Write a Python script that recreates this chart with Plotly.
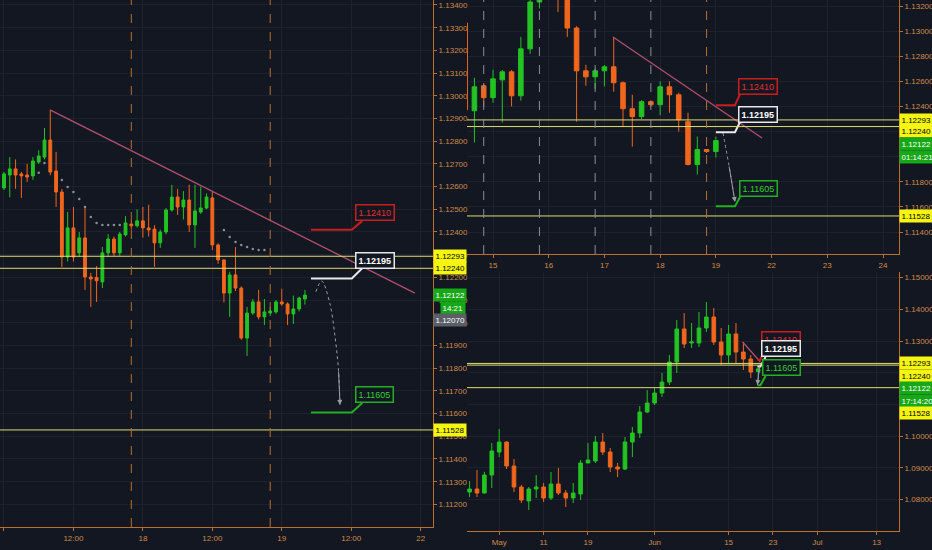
import plotly.graph_objects as go

# ---------------- DATA ----------------
# Left panel: 1h candles, index 0 = 17 Jun 00:00
L_open = [1.12594,1.12651,1.12678,1.12656,1.12651,1.12647,1.12708,1.12730,1.12805,1.12669,
          1.12576,1.12290,1.12418,1.12308,1.12374,1.12202,1.12200,1.12180,1.12308,1.12369,
          1.12308,1.12387,1.12435,1.12427,1.12449,1.12418,1.12413,1.12352,1.12400,1.12497,
          1.12554,1.12510,1.12541,1.12431,1.12488,1.12506,1.12550,1.12343,1.12277,1.12131,
          1.12211,1.12153,1.11933,1.12043,1.12092,1.12026,1.12043,1.12048,1.12092,1.12083,
          1.12039,1.12061,1.12105]
L_high = [1.12665,1.12730,1.12720,1.12665,1.12700,1.12730,1.12760,1.12858,1.12938,1.12753,
          1.12590,1.12488,1.12510,1.12400,1.12510,1.12220,1.12250,1.12334,1.12390,1.12380,
          1.12400,1.12470,1.12450,1.12500,1.12510,1.12520,1.12430,1.12410,1.12505,1.12608,
          1.12590,1.12580,1.12608,1.12608,1.12600,1.12570,1.12580,1.12350,1.12280,1.12225,
          1.12334,1.12160,1.12070,1.12105,1.12145,1.12105,1.12070,1.12100,1.12150,1.12090,
          1.12120,1.12115,1.12145]
L_low = [1.12585,1.12553,1.12590,1.12550,1.12620,1.12630,1.12700,1.12720,1.12650,1.12510,
         1.12246,1.12270,1.12270,1.12290,1.12145,1.12070,1.12092,1.12153,1.12290,1.12295,
         1.12295,1.12380,1.12410,1.12420,1.12375,1.12380,1.12246,1.12330,1.12390,1.12490,
         1.12475,1.12455,1.12400,1.12330,1.12480,1.12500,1.12320,1.12260,1.12090,1.12026,
         1.12140,1.11925,1.11854,1.12035,1.12015,1.11990,1.12030,1.12040,1.12075,1.11990,
         1.11995,1.12050,1.12080]
L_close = [1.12656,1.12678,1.12651,1.12647,1.12642,1.12713,1.12735,1.12805,1.12664,1.12576,
           1.12290,1.12418,1.12290,1.12374,1.12202,1.12193,1.12185,1.12308,1.12369,1.12308,
           1.12391,1.12440,1.12427,1.12449,1.12418,1.12409,1.12352,1.12400,1.12497,1.12554,
           1.12510,1.12541,1.12431,1.12493,1.12506,1.12554,1.12343,1.12277,1.12131,1.12211,
           1.12153,1.11933,1.12043,1.12092,1.12026,1.12048,1.12052,1.12092,1.12083,1.12039,
           1.12061,1.12109,1.12122]
L_x = list(range(len(L_open)))
L_xtick_vals = [0, 12, 24, 36, 48, 60, 72]
L_xtick_text = ["17", "12:00", "18", "12:00", "19", "12:00", "22"]
L_ytick_vals = [1.111,1.112,1.113,1.114,1.115,1.116,1.117,1.118,1.119,1.120,1.121,1.122,
                1.123,1.124,1.125,1.126,1.127,1.128,1.129,1.130,1.131,1.132,1.133,1.134]
L_session = [22, 46]
L_sar_x = [6, 7, 10, 11, 12, 13, 14, 15, 16, 17, 18, 19, 20, 38, 39, 40, 41, 42, 43, 44, 45]
L_sar_y = [1.12661,1.12704,1.12629,1.12598,1.12576,1.12545,1.12510,1.12466,1.12440,1.12431,
           1.12431,1.12431,1.12431,1.12409,1.12378,1.12356,1.12343,1.12334,1.12325,1.12321,1.12321]
L_trend_x = [7.95, 71.0]
L_trend_y = [1.12938, 1.12131]
L_path_x = [53.9, 54.9, 56.3, 57.2, 57.8, 58.06]
L_path_y = [1.12137, 1.12184, 1.12086, 1.11939, 1.11792, 1.11638]

# Top-right panel: 4h candles, index 0 = 15 Jun 00:00
T_x = list(range(-3, 25))
T_open = [1.13065,1.12366,1.12565,1.12470,1.12612,1.12676,1.12485,1.12859,1.13232,1.13400,
          1.13450,1.13380,1.13025,1.12684,1.12636,1.12684,1.12716,1.12589,1.12382,1.12319,
          1.12438,1.12414,1.12557,1.12493,1.12279,1.11938,1.12057,1.12041]
T_high = [1.13080,1.12628,1.12580,1.12692,1.12690,1.12690,1.12954,1.13300,1.13450,1.13520,
          1.13500,1.13420,1.13040,1.12732,1.12700,1.12730,1.12954,1.12600,1.12493,1.12450,
          1.12450,1.12600,1.12600,1.12510,1.12350,1.12160,1.12060,1.12160]
T_low = [1.12374,1.12113,1.12400,1.12430,1.12271,1.12400,1.12446,1.12820,1.13180,1.13350,
         1.13152,1.12954,1.12279,1.12565,1.12540,1.12560,1.12517,1.12239,1.12080,1.12300,
         1.12400,1.12330,1.12350,1.12200,1.11930,1.11858,1.12030,1.11993]
T_close = [1.12374,1.12557,1.12470,1.12620,1.12676,1.12485,1.12859,1.13232,1.13400,1.13450,
           1.13380,1.13025,1.12684,1.12636,1.12684,1.12716,1.12589,1.12382,1.12319,1.12438,
           1.12414,1.12557,1.12493,1.12295,1.11938,1.12057,1.12041,1.12128]
T_xtick_vals = [0, 6, 12, 18, 24, 30, 36, 42]
T_xtick_text = ["15", "16", "17", "18", "19", "22", "23", "24"]
T_ytick_vals = [1.114, 1.116, 1.118, 1.120, 1.122, 1.124, 1.126, 1.128, 1.130, 1.132]
T_session_gray = [-1, 5, 11, 17]
T_session_orange = [23]
T_trend_x = [12.92, 28.97]
T_trend_y = [1.12953, 1.12149]
T_path_x = [24.77, 25.4, 26.06]
T_path_y = [1.12189, 1.11934, 1.11639]

# Bottom-right panel: daily candles, index 0 = 27 Apr
B_x = list(range(40))
B_open = [1.08236,1.08331,1.08204,1.08772,1.09498,1.09813,1.09056,1.08394,1.07952,1.08331,
          1.08394,1.08047,1.08488,1.08204,1.08047,1.08173,1.09151,1.09214,1.09813,1.09498,
          1.09025,1.08962,1.09813,1.10097,1.10760,1.11044,1.11359,1.11706,1.12337,1.13379,
          1.12937,1.12937,1.13410,1.13757,1.12968,1.12558,1.13221,1.12653,1.12432,1.12041]
B_high = [1.08583,1.08930,1.08875,1.09782,1.10224,1.09830,1.09277,1.08457,1.08394,1.08772,
          1.08520,1.08867,1.08993,1.08299,1.08520,1.09246,1.09782,1.10003,1.10097,1.09624,
          1.09151,1.09971,1.10287,1.10950,1.11454,1.11517,1.11990,1.12558,1.13663,1.13883,
          1.13568,1.13915,1.14230,1.14041,1.13410,1.13505,1.13568,1.12968,1.12558,1.12160]
B_low = [1.08078,1.08078,1.08195,1.08362,1.09340,1.08962,1.08236,1.07889,1.07668,1.08047,
         1.07921,1.07984,1.08141,1.07763,1.07889,1.07984,1.09151,1.09151,1.09403,1.08867,
         1.08709,1.08930,1.09340,1.09940,1.10728,1.10981,1.11233,1.11612,1.11990,1.12779,
         1.12779,1.12811,1.13284,1.12874,1.12243,1.12306,1.12274,1.12085,1.11833,1.11858]
B_close = [1.08331,1.08204,1.08772,1.09530,1.09813,1.09056,1.08394,1.07984,1.08331,1.08394,
           1.08047,1.08488,1.08204,1.08047,1.08204,1.09151,1.09246,1.09813,1.09498,1.09025,
           1.08962,1.09813,1.10097,1.10760,1.11044,1.11359,1.11706,1.12337,1.13379,1.12905,
           1.12968,1.13410,1.13757,1.12968,1.12558,1.13221,1.12653,1.12432,1.12022,1.12122]
B_xtick_vals = [4, 10, 16, 25, 35, 41, 47, 55]
B_xtick_text = ["May", "11", "19", "Jun", "15", "23", "Jul", "13"]
B_ytick_vals = [1.08, 1.09, 1.10, 1.11, 1.12, 1.13, 1.14, 1.15]
B_trend_x = [36.9, 39.3]
B_trend_y = [1.12968, 1.12337]
B_path_x = [39.2, 38.9]
B_path_y = [1.12243, 1.11612]

# Horizontal levels and targets
levels = [1.12293, 1.12240, 1.11528]
target_red = 1.12410
target_white = 1.12195
target_green = 1.11605
last_price = 1.12122
prev_price = 1.12070

# ---------------- STYLE ----------------
BG = "#131722"
GRID = "#1d2130"
AXIS = "#b8702c"
TICK = "#cf8a48"
GREEN = "#22c322"
ORANGE = "#f0661c"
YLINE = "#dede6e"
TREND = "#b0506c"
FONT = "Liberation Sans Narrow, Liberation Sans, Arial, sans-serif"
FS = 8

fig = go.Figure()

def candles(x, o, h, l, c, xa, ya):
    fig.add_trace(go.Candlestick(
        x=x, open=o, high=h, low=l, close=c, xaxis=xa, yaxis=ya,
        increasing=dict(line=dict(color=GREEN, width=1), fillcolor=GREEN),
        decreasing=dict(line=dict(color=ORANGE, width=1), fillcolor=ORANGE),
        whiskerwidth=0, showlegend=False, hoverinfo="skip"))

candles(L_x, L_open, L_high, L_low, L_close, "x", "y")
candles(T_x, T_open, T_high, T_low, T_close, "x2", "y2")
candles(B_x, B_open, B_high, B_low, B_close, "x3", "y3")

# parabolic SAR dots
fig.add_trace(go.Scatter(x=L_sar_x, y=L_sar_y, mode="markers", xaxis="x", yaxis="y",
                         marker=dict(size=2.5, color="#8a8d96"), showlegend=False, hoverinfo="skip"))

# trend lines
for tx, ty, xa, ya in [(L_trend_x, L_trend_y, "x", "y"), (T_trend_x, T_trend_y, "x2", "y2"),
                       (B_trend_x, B_trend_y, "x3", "y3")]:
    fig.add_trace(go.Scatter(x=tx, y=ty, mode="lines", xaxis=xa, yaxis=ya,
                             line=dict(color=TREND, width=1.3), showlegend=False, hoverinfo="skip"))

# projected paths (dotted)
for px_, py_, xa, ya in [(L_path_x, L_path_y, "x", "y"), (T_path_x, T_path_y, "x2", "y2"),
                         (B_path_x, B_path_y, "x3", "y3")]:
    fig.add_trace(go.Scatter(x=px_, y=py_, mode="lines", xaxis=xa, yaxis=ya, line_shape="spline",
                             line=dict(color="#9a9ca4", width=1, dash="dot"),
                             showlegend=False, hoverinfo="skip"))

shapes = []
annotations = []

# horizontal yellow levels
for xa, ya in [("x", "y"), ("x2", "y2"), ("x3", "y3")]:
    for lv in levels:
        shapes.append(dict(type="line", xref=xa + " domain", yref=ya, x0=0, x1=1, y0=lv, y1=lv,
                           line=dict(color=YLINE, width=1)))

# session separators
for s in L_session:
    shapes.append(dict(type="line", xref="x", yref="y domain", x0=s, x1=s, y0=0, y1=1,
                       line=dict(color=AXIS, width=1, dash="dash")))
for s in T_session_gray:
    shapes.append(dict(type="line", xref="x2", yref="y2 domain", x0=s, x1=s, y0=0, y1=1,
                       line=dict(color="#8c8f99", width=1, dash="dash")))
for s in T_session_orange:
    shapes.append(dict(type="line", xref="x2", yref="y2 domain", x0=s, x1=s, y0=0, y1=1,
                       line=dict(color=AXIS, width=1, dash="dash")))

# callouts: (xa, ya, x_start, x_end, x_diag, box_x, [(price, box_bottom, box_center)])
callout_specs = [
    ("x", "y", 53.05, 60.1, 61.9, 64.1,
     [(target_red, 1.12449, 1.12488), (target_white, 1.12240, 1.12275), (target_green, 1.11647, 1.11682)]),
    ("x2", "y2", 24.0, 26.06, 26.6, 28.54,
     [(target_red, 1.12499, 1.12559), (target_white, 1.12276, 1.12340), (target_green, 1.11679, 1.11747)]),
    ("x3", "y3", 38.9, 39.3, 40.0, 42.1,
     [(target_red, 1.12811, 1.13032), (target_white, 1.12495, 1.12748), (target_green, 1.11896, 1.12164)]),
]
callout_style = [("#c81e1e", "#e03030", False), ("#e8e8e8", "#ffffff", True), ("#22b022", "#2fd02f", False)]

for xa, ya, xs, xe, xd, bx, items in callout_specs:
    for (price, bottom, center), (lc, tc, bold) in zip(items, callout_style):
        fig.add_trace(go.Scatter(x=[xs, xe, xd], y=[price, price, bottom], mode="lines",
                                 xaxis=xa, yaxis=ya, line=dict(color=lc, width=2),
                                 showlegend=False, hoverinfo="skip"))
        txt = f"{price:.5f}"
        annotations.append(dict(x=bx, y=center, xref=xa, yref=ya, text=f"<b>{txt}</b>" if bold else txt,
                                showarrow=False, font=dict(color=tc, size=9, family=FONT),
                                bgcolor=BG, bordercolor=lc, borderwidth=1.5, borderpad=2,
                                xanchor="center", yanchor="middle"))

# arrow heads of projected paths
for px_, py_, xa, ya in [(L_path_x, L_path_y, "x", "y"), (T_path_x, T_path_y, "x2", "y2"),
                         (B_path_x, B_path_y, "x3", "y3")]:
    annotations.append(dict(x=px_[-1], y=py_[-1], ax=px_[-2], ay=py_[-2], xref=xa, yref=ya,
                            axref=xa, ayref=ya, showarrow=True, text="", arrowhead=2,
                            arrowsize=1, arrowwidth=1, arrowcolor="#9a9ca4", standoff=0))

# price-scale highlight labels
L_AX_X = 433 / 932
R_AX_X = 899 / 932

def plabel(xp, ya, price, text, bg, fg, yshift=0, xanchor="left"):
    annotations.append(dict(x=xp, y=price, xref="paper", yref=ya, text=text, showarrow=False,
                            font=dict(color=fg, size=FS, family=FONT), bgcolor=bg,
                            borderpad=1.5, xanchor=xanchor, yanchor="middle", yshift=yshift))

YEL = "#f5f511"
GRN = "#17a817"
GRY = "#5b5e69"
# left
plabel(L_AX_X, "y", levels[0], f"{levels[0]:.5f}", YEL, "#000000")
plabel(L_AX_X, "y", levels[1], f"{levels[1]:.5f}", YEL, "#000000")
plabel(L_AX_X, "y", last_price, f"{last_price:.5f}", GRN, "#ffffff")
plabel(466 / 932, "y", last_price, "14:21", GRN, "#ffffff", yshift=-12.5, xanchor="right")
plabel(L_AX_X, "y", prev_price, f"{prev_price:.5f}", GRY, "#ffffff", yshift=-13)
plabel(L_AX_X, "y", levels[2], f"{levels[2]:.5f}", YEL, "#000000")
# top-right
plabel(R_AX_X, "y2", levels[0], f"{levels[0]:.5f}", YEL, "#000000")
plabel(R_AX_X, "y2", levels[1], f"{levels[1]:.5f}", YEL, "#000000", yshift=-4.5)
plabel(R_AX_X, "y2", last_price, f"{last_price:.5f}", GRN, "#ffffff", yshift=-3)
plabel(R_AX_X, "y2", last_price, "01:14:21", GRN, "#ffffff", yshift=-16)
plabel(R_AX_X, "y2", levels[2], f"{levels[2]:.5f}", YEL, "#000000")
# bottom-right
plabel(R_AX_X, "y3", levels[0], f"{levels[0]:.5f}", YEL, "#000000")
plabel(R_AX_X, "y3", levels[1], f"{levels[1]:.5f}", YEL, "#000000", yshift=-11)
plabel(R_AX_X, "y3", last_price, f"{last_price:.5f}", GRN, "#ffffff", yshift=-19)
plabel(R_AX_X, "y3", last_price, "17:14:20", GRN, "#ffffff", yshift=-32)
plabel(R_AX_X, "y3", levels[2], f"{levels[2]:.5f}", YEL, "#000000", yshift=-25)

def xaxis(domain, rng, vals, text, anchor):
    return dict(domain=domain, range=rng, anchor=anchor, tickvals=vals, ticktext=text,
                showgrid=True, gridcolor=GRID, gridwidth=1, zeroline=False,
                showline=True, linecolor=AXIS, linewidth=1, ticks="outside", ticklen=3,
                tickcolor=AXIS, tickfont=dict(size=FS, color=TICK, family=FONT),
                rangeslider=dict(visible=False), fixedrange=True, automargin=False)

def yaxis(domain, rng, vals, anchor, fmt=".5f"):
    return dict(domain=domain, range=rng, anchor=anchor, side="right", tickvals=vals,
                ticktext=[f"{v:{fmt}}" for v in vals],
                showgrid=True, gridcolor=GRID, gridwidth=1, zeroline=False,
                showline=True, linecolor=AXIS, linewidth=1, ticks="outside", ticklen=3,
                tickcolor=AXIS, tickfont=dict(size=FS, color=TICK, family=FONT),
                fixedrange=True, automargin=False)

W, H = 932, 550
fig.update_layout(
    width=W, height=H, margin=dict(l=0, r=0, t=0, b=0, pad=0, autoexpand=False),
    paper_bgcolor=BG, plot_bgcolor=BG, showlegend=False,
    xaxis=xaxis([0, 433 / W], [-0.69, 74.13], L_xtick_vals, L_xtick_text, "y"),
    yaxis=yaxis([(H - 527) / H, 1], [1.111004, 1.13422], L_ytick_vals, "x"),
    xaxis2=xaxis([467 / W, 899 / W], [-2.80, 43.72], T_xtick_vals, T_xtick_text, "y2"),
    yaxis2=yaxis([(H - 254) / H, 1], [1.11225, 1.13248], T_ytick_vals, "x2"),
    xaxis3=xaxis([467 / W, 899 / W], [-0.35, 58.03], B_xtick_vals, B_xtick_text, "y3"),
    yaxis3=yaxis([(H - 531) / H, (H - 272) / H], [1.07006, 1.15177], B_ytick_vals, "x3"),
    shapes=shapes, annotations=annotations,
)

fig.write_html("out.html", config={"displayModeBar": False},
               post_script="document.body.style.margin='0';document.body.style.overflow='hidden';"
                           "document.body.style.background='#131722';")
